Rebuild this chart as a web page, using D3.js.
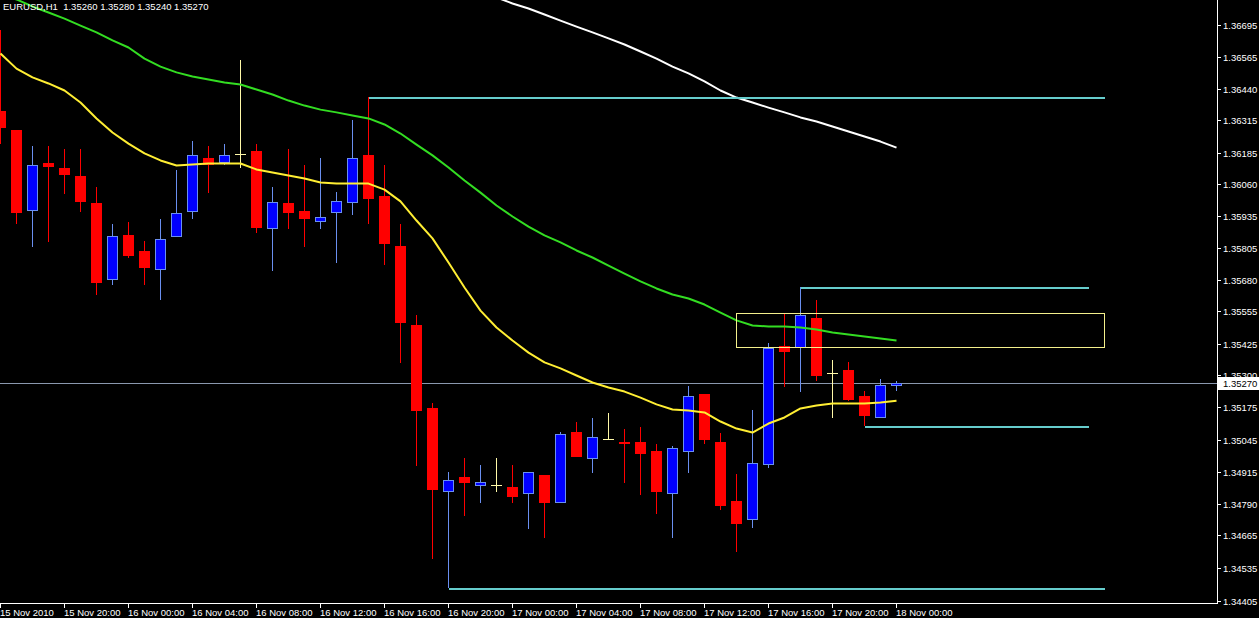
<!DOCTYPE html>
<html><head><meta charset="utf-8">
<script src="https://cdn.jsdelivr.net/npm/d3@7/dist/d3.min.js"></script>
<style>html,body{margin:0;padding:0;background:#000;overflow:hidden}svg{display:block}</style>
</head><body><svg id="c" width="1259" height="618"></svg>
<script>
// ---------- DATA ----------
const chartTitle = "EURUSD,H1  1.35260 1.35280 1.35240 1.35270";
const lastPriceLabel = "1.35270";
const lastPrice = 1.35270;
const firstBarTime = "2010-11-15T16:00";   // hourly bars
const opens = [1.36353,1.36274,1.35952,1.36143,1.36123,1.36095,1.35984,1.35678,1.35860,1.35793,
1.35721,1.35849,1.35948,1.36163,1.36143,1.36179,1.36194,1.35884,1.35984,1.35952,
1.35912,1.35944,1.35984,1.36175,1.36012,1.35813,1.35499,1.35169,1.34835,1.34898,
1.34862,1.34866,1.34858,1.34827,1.34906,1.34795,1.35077,1.34966,1.35049,1.35037,
1.35037,1.34998,1.34827,1.34994,1.35228,1.35037,1.34799,1.34727,1.34946,1.35419,
1.35411,1.35530,1.35308,1.35320,1.35220,1.35129,1.35260];
const highs = [1.36672,1.36274,1.36214,1.36214,1.36202,1.36202,1.36051,1.35904,1.35912,1.35833,
1.35924,1.36115,1.36234,1.36214,1.36222,1.36556,1.36222,1.36051,1.36202,1.36135,
1.36163,1.36031,1.36314,1.36409,1.36135,1.35904,1.35542,1.35189,1.34918,1.34970,
1.34946,1.34970,1.34946,1.34918,1.34906,1.35077,1.35117,1.35129,1.35149,1.35089,
1.35097,1.35029,1.35018,1.35260,1.35228,1.35073,1.34910,1.35161,1.35431,1.35546,
1.35650,1.35602,1.35360,1.35352,1.35240,1.35288,1.35280];
const lows = [1.36222,1.35904,1.35809,1.35829,1.36020,1.35948,1.35618,1.35658,1.35769,1.35658,
1.35602,1.35849,1.35924,1.36027,1.36135,1.36123,1.35868,1.35717,1.35884,1.35809,
1.35884,1.35749,1.35940,1.35904,1.35741,1.35348,1.34942,1.34572,1.34457,1.34743,
1.34795,1.34835,1.34795,1.34691,1.34652,1.34795,1.34974,1.34914,1.35049,1.34874,
1.34823,1.34751,1.34652,1.34914,1.35029,1.34767,1.34600,1.34695,1.34934,1.35256,
1.35236,1.35280,1.35129,1.35200,1.35101,1.35129,1.35240];
const closes = [1.36282,1.35944,1.36135,1.36127,1.36099,1.35988,1.35666,1.35853,1.35777,1.35729,
1.35841,1.35944,1.36175,1.36135,1.36175,1.36179,1.35888,1.35988,1.35944,1.35924,
1.35932,1.35992,1.36163,1.36000,1.35821,1.35507,1.35157,1.34843,1.34886,1.34874,
1.34878,1.34866,1.34815,1.34918,1.34795,1.35069,1.34974,1.35057,1.35049,1.35026,
1.34986,1.34835,1.35010,1.35220,1.35045,1.34783,1.34711,1.34954,1.35411,1.35395,
1.35542,1.35296,1.35308,1.35204,1.35137,1.35264,1.35270];
// moving averages (per bar, null = not shown)
const maYellow = [1.36580,1.36520,1.36485,1.36461,1.36433,1.36385,1.36322,1.36266,1.36222,1.36183,
1.36155,1.36135,1.36139,1.36143,1.36143,1.36143,1.36119,1.36107,1.36095,1.36083,
1.36067,1.36063,1.36063,1.36063,1.36039,1.35992,1.35916,1.35845,1.35749,1.35650,
1.35558,1.35491,1.35439,1.35391,1.35352,1.35328,1.35300,1.35272,1.35252,1.35236,
1.35212,1.35185,1.35165,1.35161,1.35153,1.35117,1.35089,1.35073,1.35109,1.35133,
1.35169,1.35181,1.35189,1.35189,1.35189,1.35193,1.35200];
const maGreen = [1.36815,1.36795,1.36767,1.36743,1.36719,1.36691,1.36664,1.36632,1.36604,1.36560,
1.36528,1.36505,1.36489,1.36477,1.36465,1.36457,1.36437,1.36417,1.36393,1.36373,
1.36357,1.36346,1.36334,1.36322,1.36298,1.36262,1.36218,1.36175,1.36127,1.36075,
1.36027,1.35976,1.35932,1.35892,1.35857,1.35829,1.35797,1.35769,1.35737,1.35705,
1.35674,1.35646,1.35622,1.35606,1.35582,1.35550,1.35519,1.35499,1.35495,1.35495,
1.35491,1.35483,1.35471,1.35463,1.35455,1.35447,1.35439];
const maWhite = [null,null,null,null,null,null,null,null,null,null,
null,null,null,null,null,null,null,null,null,null,
null,null,null,null,null,null,null,null,null,null,
null,1.36803,1.36779,1.36759,1.36735,1.36711,1.36687,1.36664,1.36640,1.36616,
1.36588,1.36560,1.36528,1.36501,1.36469,1.36433,1.36405,1.36385,1.36365,1.36346,
1.36326,1.36310,1.36290,1.36270,1.36250,1.36230,1.36206];
// drawn objects: [price, fromBar, toBar]
const levelLines = [[1.36409,23,69],[1.35650,50,68],[1.35101,54,68],[1.34457,28,69]];
const zoneBox = [1.35550,1.35415,46,69]; // top, bottom, fromBar, toBar
// axis labels
const yTickLabels = ["1.36695","1.36565","1.36440","1.36315","1.36185","1.36060","1.35935","1.35805","1.35680","1.35555","1.35425","1.35300","1.35175","1.35045","1.34915","1.34790","1.34665","1.34535","1.34405"];
const xTickTimes = ["2010-11-15T16:00","2010-11-15T20:00","2010-11-16T00:00","2010-11-16T04:00","2010-11-16T08:00","2010-11-16T12:00","2010-11-16T16:00","2010-11-16T20:00","2010-11-17T00:00","2010-11-17T04:00","2010-11-17T08:00","2010-11-17T12:00","2010-11-17T16:00","2010-11-17T20:00","2010-11-18T00:00"];
const xTickLabels = ["15 Nov 2010","15 Nov 20:00","16 Nov 00:00","16 Nov 04:00","16 Nov 08:00","16 Nov 12:00","16 Nov 16:00","16 Nov 20:00","17 Nov 00:00","17 Nov 04:00","17 Nov 08:00","17 Nov 12:00","17 Nov 16:00","17 Nov 20:00","18 Nov 00:00"];

// ---------- CHART ----------
const W = 1259, H = 618, plotR = 1217, plotB = 603;
const FONT = "'Liberation Sans', Arial, sans-serif";
const svg = d3.select("#c");
svg.append("rect").attr("width", W).attr("height", H).attr("fill", "#000");

const parse = d3.timeParse("%Y-%m-%dT%H:%M");
const t0 = parse(firstBarTime);
const barTime = i => d3.timeHour.offset(t0, i);
const bars = opens.map((o, i) => ({t: barTime(i), o, h: highs[i], l: lows[i], c: closes[i]}));

const x = d3.scaleTime().domain([t0, barTime(opens.length - 1)]).range([0, 896]);
const y = d3.scaleLinear().domain([1.34405, 1.36695]).range([600.6, 24.6]);
const px = v => Math.round(v) + 0.5;
const cx = t => Math.round(x(t)) + 0.5;

svg.append("defs").append("clipPath").attr("id", "clip")
  .append("rect").attr("x", 0).attr("y", 0).attr("width", plotR).attr("height", plotB);
const plot = svg.append("g").attr("clip-path", "url(#clip)").attr("shape-rendering", "crispEdges");

// bid line
plot.append("line").attr("x1", 0).attr("x2", plotR)
  .attr("y1", px(y(lastPrice))).attr("y2", px(y(lastPrice)))
  .attr("stroke", "#8a98ae").attr("stroke-width", 1);

// candles
const RED = "#ff0000", BLUE = "#0000ff", BLUE_EDGE = "#6a8ff0", DOJI = "#fff9a8";
const cg = plot.append("g");
bars.forEach(d => {
  const X = cx(d.t);
  const g = cg.append("g");
  if (d.c > d.o) {
    g.append("line").attr("x1", X).attr("x2", X).attr("y1", Math.round(y(d.h))).attr("y2", Math.round(y(d.l)))
      .attr("stroke", BLUE_EDGE);
    const top = Math.round(y(d.c)), bot = Math.round(y(d.o));
    g.append("rect").attr("x", X - 5).attr("y", top + 0.5).attr("width", 10).attr("height", Math.max(1, bot - top - 1))
      .attr("fill", BLUE).attr("stroke", BLUE_EDGE).attr("stroke-width", 1);
  } else if (d.c < d.o) {
    g.append("line").attr("x1", X).attr("x2", X).attr("y1", Math.round(y(d.h))).attr("y2", Math.round(y(d.l)))
      .attr("stroke", RED);
    const top = Math.round(y(d.o)), bot = Math.round(y(d.c));
    g.append("rect").attr("x", X - 5.5).attr("y", top).attr("width", 11).attr("height", Math.max(1, bot - top))
      .attr("fill", RED);
  } else {
    g.append("line").attr("x1", X).attr("x2", X).attr("y1", Math.round(y(d.h))).attr("y2", Math.round(y(d.l)))
      .attr("stroke", DOJI);
    g.append("line").attr("x1", X - 5.5).attr("x2", X + 5.5).attr("y1", px(y(d.o))).attr("y2", px(y(d.o)))
      .attr("stroke", DOJI);
  }
});

// moving averages
const maG = svg.append("g").attr("clip-path", "url(#clip)");
function drawMA(arr, color) {
  const line = d3.line().defined(v => v != null).x((v, i) => cx(barTime(i))).y(v => y(v));
  maG.append("path").datum(arr).attr("d", line).attr("fill", "none")
    .attr("stroke", color).attr("stroke-width", 2).attr("stroke-linejoin", "round");
}
drawMA(maWhite, "#ffffff");
drawMA(maGreen, "#33dd22");
drawMA(maYellow, "#ffee33");

// objects
const objG = svg.append("g").attr("clip-path", "url(#clip)").attr("shape-rendering", "crispEdges");
levelLines.forEach(([p, a, b]) => {
  objG.append("line").attr("x1", cx(barTime(a))).attr("x2", cx(barTime(b)))
    .attr("y1", Math.round(y(p)) + 1).attr("y2", Math.round(y(p)) + 1)
    .attr("stroke", "#66cccc").attr("stroke-width", 2);
});
{
  const [pt, pb, a, b] = zoneBox;
  const x1 = cx(barTime(a)), x2 = cx(barTime(b));
  const y1 = px(y(pt)), y2 = px(y(pb));
  objG.append("rect").attr("x", x1).attr("y", y1).attr("width", x2 - x1).attr("height", y2 - y1)
    .attr("fill", "none").attr("stroke", "#f4f08c").attr("stroke-width", 1);
}

// axes
const ax = svg.append("g").attr("shape-rendering", "crispEdges");
ax.append("line").attr("x1", plotR + 0.5).attr("x2", plotR + 0.5).attr("y1", 0).attr("y2", plotB + 1)
  .attr("stroke", "#ffffff");
ax.append("line").attr("x1", 0).attr("x2", plotR + 1).attr("y1", plotB + 0.5).attr("y2", plotB + 0.5)
  .attr("stroke", "#ffffff");

yTickLabels.forEach(s => {
  const yy = px(y(+s));
  ax.append("line").attr("x1", plotR + 1).attr("x2", plotR + 4).attr("y1", yy).attr("y2", yy).attr("stroke", "#ffffff");
  svg.append("text").attr("x", 1223).attr("y", yy).attr("dy", "0.35em")
    .attr("fill", "#ffffff").attr("font-family", FONT).attr("font-size", "9.5px").text(s);
});

xTickTimes.forEach((s, i) => {
  const xx = cx(parse(s));
  ax.append("line").attr("x1", xx).attr("x2", xx).attr("y1", plotB + 1).attr("y2", plotB + 5).attr("stroke", "#ffffff");
  svg.append("text").attr("x", Math.max(0, xx - 0.5)).attr("y", 616)
    .attr("fill", "#ffffff").attr("font-family", FONT).attr("font-size", "9.5px").text(xTickLabels[i]);
});

// last price label
{
  const yy = px(y(lastPrice));
  svg.append("rect").attr("x", plotR + 1).attr("y", Math.round(yy) - 7).attr("width", W - plotR - 1).attr("height", 13)
    .attr("fill", "#ffffff");
  svg.append("text").attr("x", 1223).attr("y", yy).attr("dy", "0.35em")
    .attr("fill", "#000000").attr("font-family", FONT).attr("font-size", "9.5px").text(lastPriceLabel);
}

// title
svg.append("text").attr("x", 3).attr("y", 10).attr("fill", "#ffffff")
  .style("white-space", "pre")
  .attr("font-family", FONT).attr("font-size", "9.5px").text(chartTitle);
</script>
</body></html>
